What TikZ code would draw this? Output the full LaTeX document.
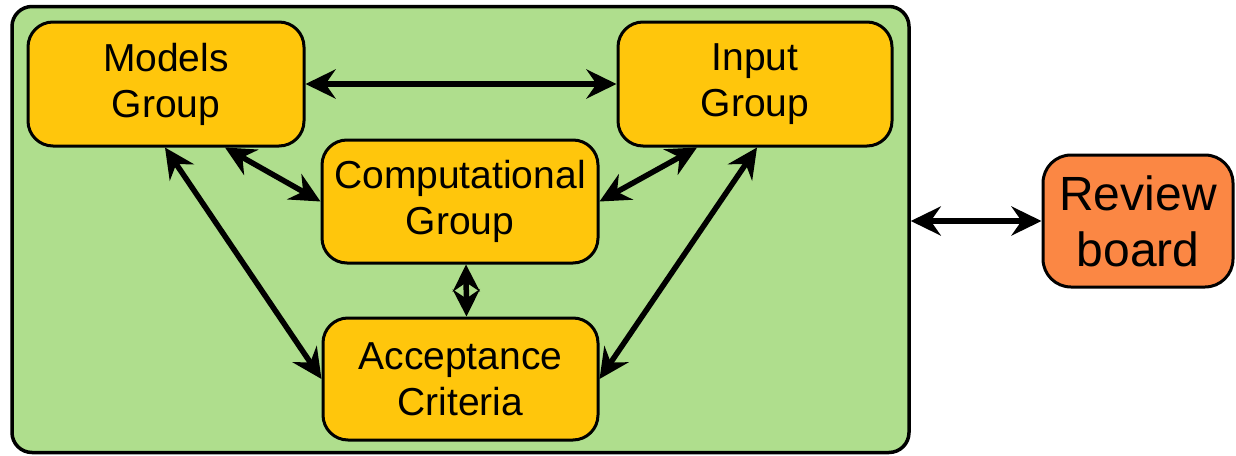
\documentclass[tikz,border=0pt]{standalone}
\usepackage{fontspec}
\setmainfont{Liberation Sans}
\usetikzlibrary{arrows.meta,calc}

\definecolor{panelgreen}{RGB}{175,222,141}
\definecolor{groupyellow}{RGB}{255,198,12}
\definecolor{boardorange}{RGB}{251,135,68}

\tikzset{
  group/.style={draw=black, line width=3pt, fill=groupyellow, rounded corners=25pt,
    align=center, font=\fontsize{39}{46}\selectfont, inner sep=0pt},
  link/.style={line width=5.5pt, {Stealth[length=30pt,width=29pt,inset=10pt]}-{Stealth[length=30pt,width=29pt,inset=10pt]}},
}

\begin{document}
\begin{tikzpicture}[x=1pt,y=-1pt]
  \useasboundingbox (0,0) rectangle (1236,455);

  % outer panel holding the working groups
  \node[draw=black, line width=3.5pt, fill=panelgreen, rounded corners=20pt,
        minimum width=897pt, minimum height=446pt, inner sep=0pt] (frame) at (460.5,229.5) {};

  \node[group, minimum width=276pt, minimum height=124pt] (models) at (166,84) {Models\\Group};
  \node[group, minimum width=274pt, minimum height=124pt] (input) at (755,84) {Input\\Group};
  \node[group, minimum width=276pt, minimum height=123pt] (comp) at (460,201.5) {Computational\\Group};
  \node[group, minimum width=275pt, minimum height=122pt] (accept) at (460.5,379) {Acceptance\\Criteria};

  \node[draw=black, line width=3pt, fill=boardorange, rounded corners=28pt,
        minimum width=190pt, minimum height=132pt, inner sep=0pt, align=center,
        font=\fontsize{48}{56}\selectfont] (review) at (1138,221) {Review\\board};

  % connections between the groups
  \draw[link] (models.east) -- (input.west);
  \draw[link] ([xshift=59pt]models.south) -- (comp.west);
  \draw[link] ([xshift=-1pt]models.south) -- (accept.west);
  \draw[link] ([xshift=-58pt]input.south) -- (comp.east);
  \draw[link] ([xshift=2pt]input.south) -- (accept.east);
  \draw[line width=5.5pt, {Stealth[length=27pt,width=27pt,inset=9pt]}-{Stealth[length=27pt,width=27pt,inset=9pt]}]
    ([xshift=6pt]comp.south) -- ([xshift=6pt]accept.north);
  \draw[link] (frame.east |- review.west) -- (review.west);
\end{tikzpicture}
\end{document}
